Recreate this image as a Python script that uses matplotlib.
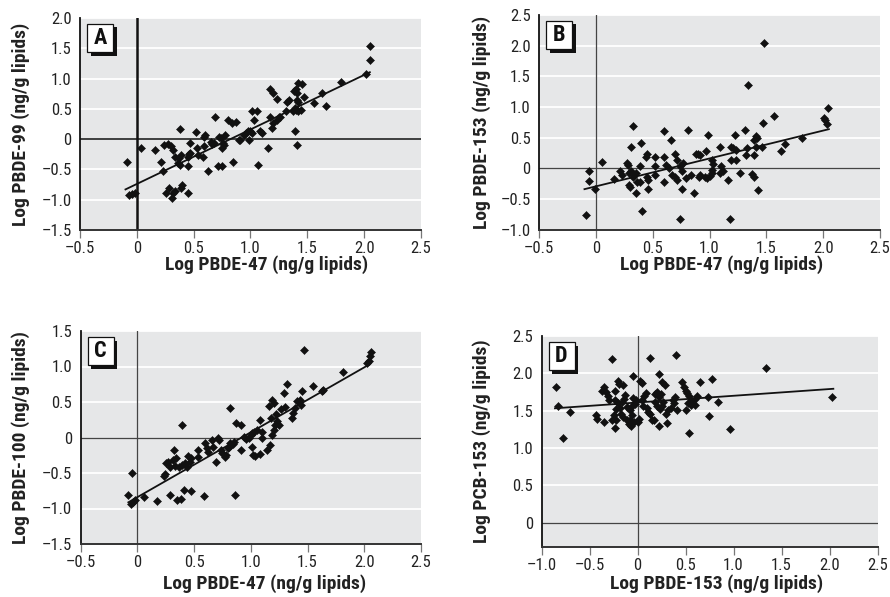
import matplotlib
matplotlib.use("Agg")
import matplotlib.pyplot as plt
from matplotlib import font_manager as fm
from matplotlib.patches import Rectangle
import numpy as np

# pick a condensed / narrow face if one is installed
_names = sorted({f.name for f in fm.fontManager.ttflist})
_narrow = [n for n in _names if ("Narrow" in n or "Condensed" in n)]
_cands = [n for n in ["Liberation Sans Narrow", "Roboto Condensed", "Open Sans Condensed",
                      "DejaVu Sans Condensed", "Noto Sans Condensed"] if n in _names] + _narrow
fam = ([_cands[0]] if _cands else []) + ["Liberation Sans", "DejaVu Sans"]
plt.rcParams['font.family'] = fam
_stretch = "condensed"

# ---------------- data ----------------
xA = [-0.09,-0.07,-0.04,-0.02,0.04,0.16,0.21,0.24,0.27,0.30,0.32,0.23,0.26,0.285,0.315,0.31,0.34,0.38,0.34,0.36,0.37,0.39,0.38,0.40,0.39,0.45,0.45,0.46,0.47,0.45,0.47,0.52,0.53,0.54,0.58,0.59,0.59,0.60,0.63,0.65,0.66,0.68,0.69,0.71,0.75,0.72,0.74,0.75,0.76,0.77,0.78,0.80,0.84,0.87,0.85,0.90,0.91,0.94,0.96,0.98,1.00,1.01,1.01,1.03,1.06,0.99,1.07,1.08,
      1.10,1.15,1.17,1.17,1.20,1.23,1.19,1.20,1.23,1.25,1.26,1.31,1.32,1.34,1.37,1.39,1.40,1.42,1.38,1.40,1.41,1.41,1.42,1.42,1.45,1.44,1.47,1.39,1.41,1.56,1.63,1.66,1.80,2.02,2.05,2.05]
yA = [-0.37,-0.93,-0.91,-0.89,-0.15,-0.18,-0.37,-0.09,-0.08,-0.12,-0.18,-0.53,-0.89,-0.81,-0.89,-0.97,-0.86,0.16,-0.30,-0.40,-0.31,-0.26,-0.42,-0.75,-0.81,-0.89,-0.45,-0.25,-0.23,-0.29,-0.07,0.12,-0.15,-0.27,-0.29,-0.12,0.04,0.07,-0.52,-0.04,-0.08,-0.07,0.36,-0.45,-0.45,0.04,0.02,-0.15,-0.07,-0.09,0.07,0.32,0.26,0.29,-0.38,-0.01,-0.01,0.07,0.10,0.13,0.14,0.10,0.46,0.32,0.46,-0.01,-0.42,0.13,
      0.10,-0.15,0.36,0.82,0.77,0.66,0.18,0.26,0.32,0.37,0.36,0.46,0.62,0.65,0.46,0.51,0.48,0.46,0.79,0.82,0.76,0.65,0.62,0.93,0.91,0.48,0.69,0.14,-0.09,0.59,0.77,0.54,0.95,1.07,1.31,1.53]

xB = [-0.09,-0.06,-0.06,-0.01,0.05,0.16,0.21,0.23,0.27,0.28,0.29,0.31,0.29,0.30,0.31,0.33,0.33,0.35,0.35,0.36,0.39,0.39,0.40,0.41,0.44,0.45,0.45,0.46,0.46,0.52,0.52,0.52,0.60,0.60,0.60,0.62,0.64,0.66,0.67,0.70,0.71,0.70,0.71,0.74,0.74,0.77,0.76,0.79,0.76,0.81,0.84,0.86,0.88,0.91,
      0.90,0.92,0.97,0.92,0.96,0.98,0.99,1.02,1.03,1.02,1.02,1.00,1.09,1.10,1.12,1.09,1.16,1.18,1.19,1.21,1.23,1.19,1.23,1.22,1.27,1.31,1.32,1.33,1.34,1.37,1.39,1.39,1.39,1.41,1.42,1.41,1.43,1.46,1.47,1.48,1.57,1.63,1.66,1.81,2.01,2.02,2.03,2.04]
yB = [-0.76,-0.05,-0.20,-0.33,0.10,-0.18,-0.05,-0.11,0.08,0.05,-0.08,-0.05,-0.27,-0.30,0.34,0.69,-0.14,-0.08,-0.41,-0.22,-0.22,0.03,0.41,-0.69,0.19,0.23,-0.14,-0.34,-0.19,0.19,0.03,-0.11,0.61,0.19,-0.23,0.05,0.00,0.46,-0.11,-0.14,-0.19,0.23,0.14,-0.82,0.04,0.08,-0.05,-0.16,-0.34,0.63,-0.11,-0.41,0.24,-0.14,
      0.23,0.22,0.28,-0.11,-0.14,-0.16,0.54,0.14,0.07,-0.03,-0.08,-0.12,0.34,0.03,-0.05,-0.08,-0.19,-0.83,0.35,0.33,0.30,0.14,0.14,0.54,-0.07,0.63,0.22,0.33,1.36,-0.09,-0.14,0.22,0.46,0.53,0.49,0.35,-0.36,0.35,0.74,2.05,0.85,0.28,0.39,0.50,0.82,0.78,0.73,0.98]

xC = [-0.08,-0.05,-0.06,-0.04,-0.02,0.06,0.17,0.23,0.24,0.29,0.25,0.27,0.29,0.31,0.33,0.34,0.32,0.35,0.38,0.39,0.41,0.37,0.39,0.42,0.44,0.46,0.45,0.47,0.47,0.53,0.53,0.59,0.60,0.61,0.62,0.66,0.67,0.69,0.71,0.72,0.74,0.75,0.77,0.78,0.80,0.81,0.82,0.84,0.82,0.86,0.85,0.87,0.91,0.91,0.94,0.96,0.98,1.00,1.01,1.03,1.02,1.08,1.08,
      1.01,1.04,1.05,1.10,1.10,1.16,1.19,1.20,1.14,1.17,1.19,1.20,1.21,1.23,1.25,1.18,1.22,1.29,1.32,1.27,1.30,1.36,1.37,1.39,1.41,1.43,1.44,1.45,1.47,1.55,1.63,1.64,1.81,2.02,2.05,2.06,2.04]
yC = [-0.81,-0.50,-0.93,-0.91,-0.88,-0.84,-0.90,-0.54,-0.51,-0.81,-0.36,-0.34,-0.41,-0.32,-0.40,-0.29,-0.18,-0.88,-0.86,0.17,-0.74,-0.41,-0.39,-0.36,-0.41,-0.34,-0.26,-0.29,-0.76,-0.17,-0.28,-0.83,-0.08,-0.15,-0.20,-0.03,-0.13,-0.35,-0.01,-0.03,-0.17,-0.22,-0.27,-0.25,-0.15,-0.13,-0.08,-0.09,0.42,-0.81,-0.06,0.21,0.17,-0.18,0.01,-0.02,-0.01,0.04,0.06,0.08,-0.25,-0.23,0.24,
      -0.13,-0.26,0.11,0.08,0.00,0.44,0.53,0.49,-0.17,-0.10,0.04,0.11,0.17,0.23,0.18,0.27,0.33,0.63,0.76,0.40,0.43,0.27,0.34,0.42,0.51,0.53,0.46,0.66,1.23,0.73,0.65,0.67,0.92,1.05,1.15,1.21,1.08]

xD = [-0.85,-0.83,-0.78,-0.70,-0.43,-0.42,-0.35,-0.27,-0.37,-0.35,-0.33,-0.31,-0.30,-0.27,-0.23,-0.22,-0.24,-0.23,-0.20,-0.19,-0.15,-0.23,-0.20,-0.18,-0.22,-0.16,-0.14,-0.13,
      -0.17,-0.15,-0.11,-0.09,-0.08,-0.07,-0.04,-0.06,-0.08,-0.11,-0.06,-0.03,-0.02,-0.05,
      -0.05,0.03,0.05,0.00,0.02,0.05,0.07,0.09,0.06,0.10,0.11,0.13,0.15,0.13,0.17,0.18,0.20,0.22,0.24,0.22,0.18,0.20,0.23,0.25,0.27,0.22,0.26,0.29,0.31,0.30,0.32,0.35,0.38,0.39,0.37,0.40,0.41,0.46,0.48,0.50,0.52,0.54,0.50,0.54,0.53,0.57,0.60,0.62,0.65,
      0.56,0.60,0.73,0.78,0.74,0.84,0.96,1.34,2.03]
yD = [1.82,1.56,1.14,1.48,1.44,1.39,1.35,2.19,1.77,1.82,1.75,1.70,1.64,1.38,1.27,1.37,1.44,1.77,1.90,1.86,1.84,1.64,1.60,1.54,1.52,1.62,1.66,1.71,
      1.46,1.41,1.37,1.32,1.38,1.30,1.35,1.44,1.51,1.55,1.56,1.59,1.64,1.67,
      1.97,1.90,1.87,1.35,1.39,1.64,1.70,1.74,1.56,1.54,1.48,1.46,1.37,2.20,1.37,1.73,1.75,1.69,1.73,1.99,1.61,1.56,1.52,1.56,1.62,1.30,1.89,1.84,1.33,1.46,1.51,1.54,1.60,1.69,1.65,2.25,1.51,1.89,1.82,1.77,1.74,1.70,1.51,1.20,1.60,1.63,1.57,1.70,1.89,
      1.57,1.66,1.69,1.92,1.43,1.61,1.25,2.07,1.68]

# regression lines: (slope, intercept, x_start, x_end)
fitA = (0.90, -0.74, -0.10, 2.05)
fitB = (0.455, -0.295, -0.10, 2.05)
fitC = (0.914, -0.84, -0.08, 2.04)
fitD = (0.09, 1.61, -0.86, 2.04)

xlabels = ["Log PBDE-47 (ng/g lipids)", "Log PBDE-47 (ng/g lipids)",
           "Log PBDE-47 (ng/g lipids)", "Log PBDE-153 (ng/g lipids)"]
ylabels = ["Log PBDE-99 (ng/g lipids)", "Log PBDE-153 (ng/g lipids)",
           "Log PBDE-100 (ng/g lipids)", "Log PCB-153 (ng/g lipids)"]
letters = ["A", "B", "C", "D"]

# ---------------- layout ----------------
W, H = 890, 597
fig = plt.figure(figsize=(W / 100, H / 100), dpi=100)
fig.patch.set_facecolor("white")

boxes = [(80, 18, 421, 230), (539, 15, 880, 229.6),
         (80.7, 331, 421, 544), (541.5, 336, 877.5, 546.7)]
xlims = [(-0.5, 2.5), (-0.5, 2.5), (-0.5, 2.5), (-1.0, 2.5)]
ylims = [(-1.5, 2.0), (-1.0, 2.5), (-1.5, 1.5), (-0.32, 2.5)]
yticks = [np.arange(-1.5, 2.01, 0.5), np.arange(-1.0, 2.51, 0.5),
          np.arange(-1.5, 1.51, 0.5), np.arange(0, 2.51, 0.5)]
xticks = [np.arange(-0.5, 2.51, 0.5)] * 3 + [np.arange(-1.0, 2.51, 0.5)]
datas = [(xA, yA, fitA), (xB, yB, fitB), (xC, yC, fitC), (xD, yD, fitD)]
ylab_x = [21, 482, 21, 482]
xlab_pos = [(267, 265), (722, 265), (265, 584), (717, 584)]

def fmt(v):
    if abs(v) < 1e-9:
        return "0"
    s = f"{abs(v):.1f}"
    return ("\u2013" + s) if v < 0 else s

narrow = bool(_cands)
lab_fs = 14 if narrow else 12
tick_fs = 12 if narrow else 10.5

bg = "#e6e7e8"
for i, (l, t, r, b) in enumerate(boxes):
    ax = fig.add_axes([l / W, 1 - b / H, (r - l) / W, (b - t) / H])
    ax.set_facecolor(bg)
    ax.set_xlim(*xlims[i])
    ax.set_ylim(*ylims[i])
    for yv in yticks[i]:
        if abs(yv) > 1e-9:
            ax.axhline(yv, color="white", lw=1.3, zorder=1)
    if i == 0:
        ax.axhline(0, color="#111111", lw=1.1, zorder=2)
        ax.axvline(0, color="#111111", lw=1.8, zorder=2)
    else:
        ax.axhline(0, color="#444444", lw=0.9, zorder=2)
        ax.axvline(0, color="#444444", lw=0.9, zorder=2)
    xs, ys, (m, c, x0, x1) = datas[i]
    ax.plot(xs, ys, linestyle="none", marker="D", ms=4.4, mfc="#111111",
            mec="#111111", mew=0.4, zorder=4)
    xl = np.array([x0, x1])
    ax.plot(xl, m * xl + c, color="#111111", lw=1.3, zorder=3)

    for sp in ["top", "right"]:
        ax.spines[sp].set_visible(False)
    ax.spines["left"].set_color("#111111")
    ax.spines["left"].set_linewidth(1.3)
    ax.spines["bottom"].set_color("#333333")
    ax.spines["bottom"].set_linewidth(1.4)
    ax.set_xticks(xticks[i])
    ax.set_xticklabels([fmt(v) for v in xticks[i]])
    ax.set_yticks(yticks[i])
    ax.set_yticklabels([fmt(v) for v in yticks[i]])
    ax.tick_params(axis="y", length=0, pad=6, labelsize=tick_fs, colors="#222222")
    ax.tick_params(axis="x", direction="out", length=6, width=0.9,
                   color="#777777", pad=2, labelsize=tick_fs, labelcolor="#222222")
    for lab in ax.get_xticklabels() + ax.get_yticklabels():
        lab.set_fontstretch(_stretch)
    ax.set_xlabel(xlabels[i], fontsize=lab_fs, fontweight="bold", color="#222222",
                  fontstretch=_stretch)
    ax.set_ylabel(ylabels[i], fontsize=lab_fs, fontweight="bold", color="#222222",
                  fontstretch=_stretch)
    ax.xaxis.label.set_va("center")
    ax.yaxis.label.set_va("center")
    ax.xaxis.set_label_coords((xlab_pos[i][0] - l) / (r - l), (b - xlab_pos[i][1]) / (b - t))
    ax.yaxis.set_label_coords((ylab_x[i] - l) / (r - l), 0.5)

    # panel letter box with drop shadow (pixels)
    bx, by, bw, bh = l + 7, t + 6, 26, 28
    sh = 3.5
    fig.add_artist(Rectangle(((bx + sh) / W, 1 - (by + bh + sh) / H), bw / W, bh / H,
                             transform=fig.transFigure, facecolor="#111111",
                             edgecolor="none", zorder=10))
    fig.add_artist(Rectangle((bx / W, 1 - (by + bh) / H), bw / W, bh / H,
                             transform=fig.transFigure, facecolor="white",
                             edgecolor="#111111", lw=0.9, zorder=11))
    fig.text((bx + bw / 2) / W, 1 - (by + bh / 2) / H, letters[i],
             ha="center", va="center", fontsize=16, fontweight="bold",
             fontstretch=_stretch, color="#111111", zorder=12)

fig.savefig("out.png", dpi=100)
